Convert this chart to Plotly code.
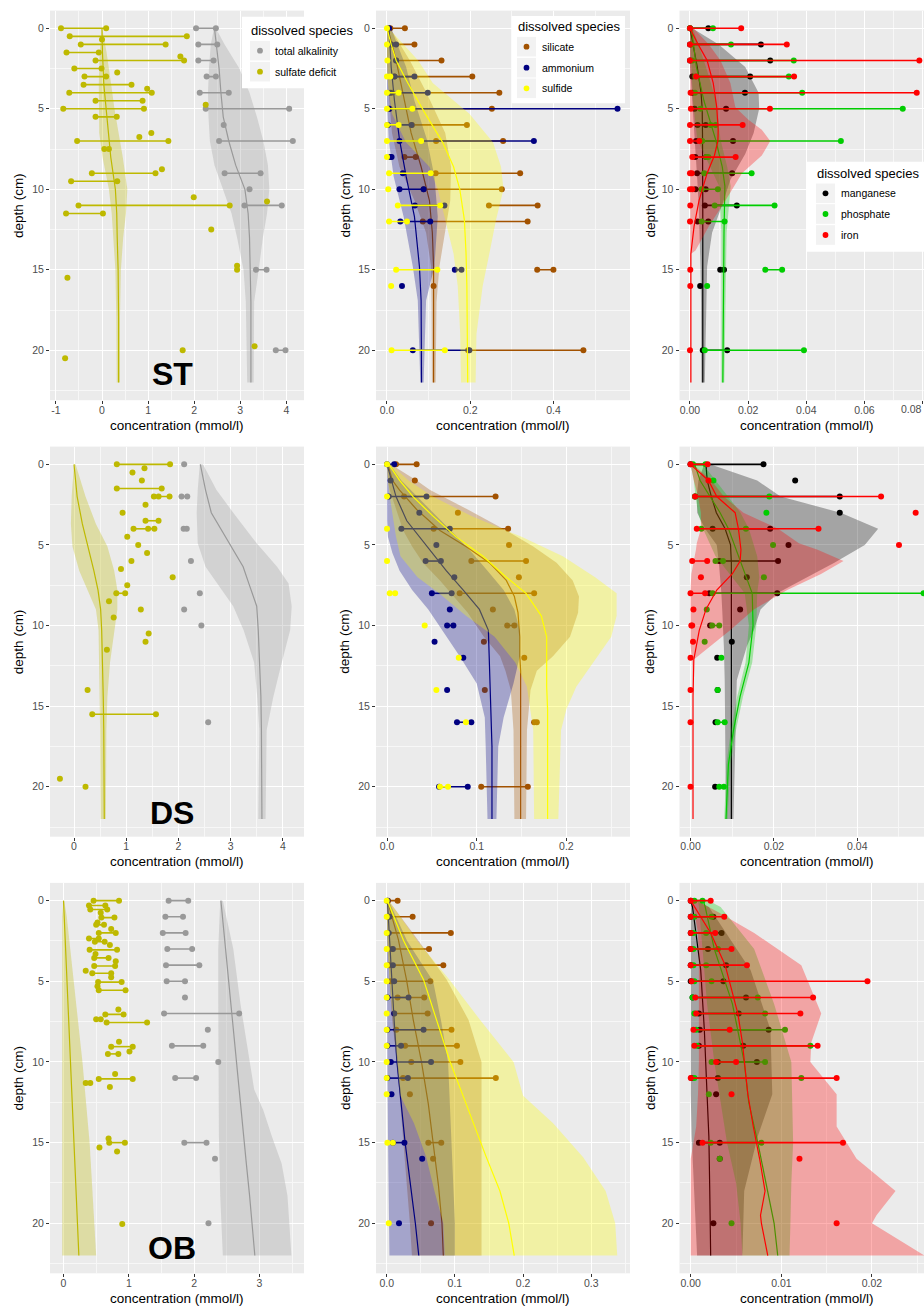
import plotly.graph_objects as go

W, H = 924, 1307
FONT = "Liberation Sans, Arial, sans-serif"

# ---------------------------------------------------------------- data
# measured profiles: (depth_cm, replicate values...)
# fitted profiles:   (depth_cm, fit, lower, upper)

depth_ticks = [0, 5, 10, 15, 20]

# ---- ST ----------------------------------------------------------------
st_alkalinity = [(0, 2.04, 2.47), (1, 2.09, 2.50), (2, 2.09, 2.42), (3, 2.27, 2.47), (4, 2.12, 2.75),
                 (5, 2.25, 4.06), (6, 2.64), (7, 2.54, 4.14), (9, 2.66, 3.44), (10, 3.20),
                 (11, 3.09, 3.90), (15, 3.34, 3.57), (20, 3.77, 3.98)]
st_alkalinity_fit = [(0, 2.44, 2.43, 2.47), (1, 2.48, 2.36, 2.66), (2.5, 2.54, 2.32, 2.98), (4, 2.58, 2.30, 3.20),
                     (5.5, 2.63, 2.31, 3.36), (7, 2.75, 2.34, 3.50), (8.5, 2.90, 2.44, 3.60), (10, 3.10, 2.63, 3.63),
                     (11.5, 3.17, 2.81, 3.58), (13, 3.20, 2.93, 3.49), (15, 3.22, 3.07, 3.40),
                     (17, 3.23, 3.12, 3.30), (22, 3.23, 3.15, 3.29)]
st_sulfate = [(0, -0.89, 0.09), (0.5, -0.70, 1.84), (0.7, 0.0), (1, -0.46, 1.38), (1.5, -0.77, -0.07),
              (1.75, 1.70), (2, -0.14, 1.78), (2.5, -0.60, -0.01), (2.75, 0.33), (3, -0.38, 0.09),
              (3.5, -0.40, 0.64), (3.75, 0.98), (4, -0.71, 1.08), (4.5, -0.14, 0.88), (4.75, 2.25),
              (5, -0.84, 0.91), (5.5, -0.14, 0.32), (6.5, 1.07), (6.75, 0.81), (7, -0.54, 1.44),
              (7.5, 0.05, 0.15), (8.75, 1.30), (9, -0.22, 1.16), (9.5, -0.67, 0.33), (10.5, 1.99),
              (10.75, 3.58), (11, -0.51, 2.77), (11.5, -0.78, 0.02), (12.5, 2.37), (14.75, 2.93),
              (15, 2.93), (15.5, -0.75), (19.75, 3.31), (20, 1.75), (20.5, -0.80)]
st_sulfate_fit = [(0, 0.0, -0.005, 0.005), (1.5, 0.01, -0.05, 0.10), (3.5, 0.04, -0.07, 0.20),
                  (5, 0.09, -0.07, 0.27), (6.5, 0.13, -0.06, 0.36), (8, 0.19, 0.01, 0.45),
                  (10, 0.29, 0.15, 0.55), (11.5, 0.32, 0.21, 0.52), (13, 0.33, 0.25, 0.46),
                  (15, 0.35, 0.29, 0.41), (18, 0.36, 0.31, 0.39), (22, 0.36, 0.32, 0.39)]

st_silicate = [(0, 0.008, 0.043), (1, 0.010, 0.066), (2, 0.022, 0.131), (3, 0.018, 0.205), (4, 0.012, 0.270),
               (5, 0.006, 0.252), (6, 0.060, 0.192), (7, 0.118, 0.279), (8, 0.042, 0.069), (9, 0.117, 0.320),
               (10, 0.088, 0.276), (11, 0.245, 0.362), (12, 0.086, 0.338), (15, 0.361, 0.400), (16, 0.112),
               (20, 0.195, 0.472)]
st_silicate_fit = [(0, 0.002, 0.0, 0.008), (2, 0.022, 0.0, 0.055), (4, 0.038, 0.004, 0.095),
                   (6.5, 0.058, 0.012, 0.140), (8.6, 0.082, 0.030, 0.154), (10.7, 0.102, 0.066, 0.152),
                   (12.7, 0.109, 0.094, 0.140), (14.8, 0.112, 0.106, 0.126), (17, 0.112, 0.107, 0.119),
                   (22, 0.112, 0.108, 0.117)]
st_ammonium = [(0, 0.005), (1, 0.010, 0.022), (2, 0.022), (3, 0.018, 0.066), (4, 0.008, 0.098),
               (5, 0.006, 0.554), (6, 0.002, 0.059), (7, 0.030, 0.353), (8, 0.008, 0.011), (9, 0.038),
               (10, 0.030, 0.088), (11, 0.067, 0.138), (12, 0.032, 0.104), (15, 0.163, 0.179), (16, 0.036),
               (20, 0.062, 0.198)]
st_ammonium_fit = [(0, 0.005, 0.0, 0.010), (2.4, 0.010, 0.0, 0.046), (4.5, 0.018, 0.0, 0.066),
                   (6.9, 0.030, 0.004, 0.096), (9.2, 0.046, 0.016, 0.114), (11.7, 0.066, 0.040, 0.122),
                   (14.8, 0.078, 0.062, 0.114), (16.9, 0.082, 0.074, 0.094), (22, 0.083, 0.080, 0.088)]
st_sulfide = [(0, 0.0), (1, 0.0), (2, 0.001), (3, 0.0, 0.008), (4, 0.0, 0.028), (5, 0.0, 0.061),
              (6, 0.0, 0.028), (7, 0.0, 0.082), (8, 0.0), (9, 0.005, 0.105), (10, 0.003), (11, 0.026, 0.128),
              (12, 0.005, 0.048), (15, 0.022, 0.121), (16, 0.010), (20, 0.011, 0.139)]
st_sulfide_fit = [(0, 0.0, 0.0, 0.004), (1, 0.010, 0.0, 0.040), (2, 0.022, 0.0, 0.075), (3.4, 0.050, 0.002, 0.110),
                  (5.3, 0.092, 0.012, 0.198), (7.1, 0.134, 0.046, 0.255), (8.6, 0.160, 0.102, 0.274),
                  (10, 0.175, 0.122, 0.280), (11.9, 0.186, 0.140, 0.262), (14, 0.190, 0.160, 0.246),
                  (16, 0.192, 0.170, 0.230), (19, 0.193, 0.176, 0.215), (22, 0.194, 0.178, 0.213)]

st_manganese = [(0, 0.0, 0.0063), (1, 0.0, 0.0244), (2, 0.0, 0.0276), (3, 0.0008, 0.0207), (4, 0.0008, 0.0189),
                (5, 0.0016, 0.0124), (6, 0.0026, 0.0054), (7, 0.0021, 0.0148), (8, 0.0018, 0.0056),
                (9, 0.0024, 0.0145), (10, 0.0019, 0.0054), (11, 0.0051, 0.0161), (12, 0.0026, 0.0063),
                (15, 0.0104, 0.0117), (16, 0.0035), (20, 0.0044, 0.0128)]
st_manganese_fit = [(0, 0.0, 0.0, 0.0008), (1, 0.0010, 0.0, 0.0099), (2.4, 0.0025, 0.0, 0.0190),
                    (4, 0.0038, 0.0006, 0.0236), (5, 0.0042, 0.0010, 0.0238), (6.5, 0.0043, 0.0014, 0.0219),
                    (7.8, 0.0044, 0.0020, 0.0190), (9.4, 0.0044, 0.0025, 0.0139), (11, 0.0044, 0.0030, 0.0110),
                    (12.7, 0.0044, 0.0033, 0.0076), (14.8, 0.0044, 0.0036, 0.0059), (17, 0.0044, 0.0038, 0.0055),
                    (22, 0.0044, 0.0039, 0.0051)]
st_phosphate = [(0, 0.0, 0.0079), (1, 0.0006, 0.0141), (2, 0.0008, 0.0357), (3, 0.0019, 0.0340),
                (4, 0.0017, 0.0386), (5, 0.0036, 0.0732), (6, 0.0071, 0.0088), (7, 0.0042, 0.0519),
                (8, 0.0056, 0.0063), (9, 0.0049, 0.0212), (10, 0.0040, 0.0096), (11, 0.0085, 0.0291),
                (12, 0.0040, 0.0119), (15, 0.0259, 0.0317), (16, 0.0059), (20, 0.0051, 0.0392)]
st_phosphate_fit = [(0, 0.0005, 0.0, 0.0010), (2.4, 0.0022, 0.0005, 0.0055), (4.5, 0.0048, 0.0010, 0.0090),
                    (6.9, 0.0088, 0.0025, 0.0105), (8.6, 0.0111, 0.0070, 0.0128), (9.8, 0.0120, 0.0100, 0.0140),
                    (12.7, 0.0117, 0.0108, 0.0126), (22, 0.0113, 0.0108, 0.0118)]
st_iron = [(0, 0.0, 0.0176), (1, 0.0, 0.0333), (2, 0.0, 0.0789), (3, 0.0021, 0.0358), (4, 0.0002, 0.0780),
           (5, 0.0003, 0.0275), (6, 0.0, 0.0181), (7, 0.0, 0.0032), (8, 0.0008, 0.0157), (9, 0.0, 0.0006),
           (10, 0.0, 0.0008), (11, 0.0001), (12, 0.0), (15, 0.0001), (16, 0.0001), (20, 0.0)]
st_iron_fit = [(0, 0.0, 0.0, 0.0012), (1, 0.0028, 0.0, 0.0065), (2, 0.0059, 0.0, 0.0105), (3.4, 0.0080, 0.0, 0.0139),
               (4.9, 0.0092, 0.0, 0.0156), (5.7, 0.0096, 0.0, 0.0202), (6.3, 0.0097, 0.0, 0.0247),
               (7, 0.0096, 0.0, 0.0276), (7.9, 0.0084, 0.0, 0.0247), (9, 0.0059, 0.0, 0.0179),
               (10.7, 0.0031, 0.0, 0.0122), (12.3, 0.0014, 0.0, 0.0065), (13.8, 0.0004, 0.0, 0.0019),
               (14, 0.0003, 0.0002, 0.0004), (22, 0.0003, 0.0002, 0.0004)]

# ---- DS ----------------------------------------------------------------
ds_alkalinity = [(0, 2.11), (2, 2.06, 2.17), (4, 2.10, 2.16), (6, 2.24), (8, 2.41), (9, 2.11), (10, 2.44), (16, 2.57)]
ds_alkalinity_fit = [(0, 2.42, 2.41, 2.47), (1.6, 2.52, 2.37, 2.73), (3, 2.63, 2.35, 3.05), (4.9, 2.97, 2.37, 3.50),
                     (6.35, 3.24, 2.52, 3.89), (7.4, 3.35, 2.74, 4.11), (8.8, 3.50, 3.05, 4.17),
                     (10.3, 3.53, 3.25, 4.14), (12.3, 3.56, 3.45, 3.98), (14.4, 3.58, 3.51, 3.82),
                     (16.5, 3.59, 3.55, 3.69), (22, 3.60, 3.53, 3.67)]
ds_sulfate = [(0, 0.82, 1.84), (0.25, 1.35), (0.5, 1.12), (1, 1.30), (1.5, 0.82, 1.68), (2, 1.53, 1.62, 1.83),
              (2.5, 1.37), (3, 0.93), (3.5, 1.37, 1.62), (4, 1.14, 1.42, 1.54), (4.5, 1.02), (5, 1.23),
              (5.5, 1.40), (6, 1.10), (6.5, 0.90), (7, 1.89), (7.5, 1.02), (8, 0.81, 0.98), (8.5, 0.67),
              (9, 1.28), (9.5, 0.76), (10.5, 1.43), (11, 1.37), (11.5, 0.63), (14, 0.26), (15.5, 0.35, 1.57),
              (19.5, -0.27), (20, 0.22)]
ds_sulfate_fit = [(0, 0.00, 0.00, 0.03), (2, 0.06, -0.045, 0.22), (3.7, 0.16, -0.06, 0.42), (5.1, 0.27, -0.03, 0.64),
                  (6.6, 0.38, 0.10, 0.77), (7.8, 0.46, 0.26, 0.83), (9, 0.51, 0.42, 0.83), (10.3, 0.53, 0.47, 0.77),
                  (12.3, 0.55, 0.48, 0.69), (14.4, 0.56, 0.49, 0.64), (16.5, 0.57, 0.50, 0.62),
                  (22, 0.58, 0.51, 0.61)]

ds_silicate = [(0, 0.010, 0.033), (1, 0.031), (2, 0.019, 0.121), (3, 0.079), (4, 0.052, 0.135), (5, 0.136),
               (6, 0.094, 0.155), (7, 0.147), (8, 0.081, 0.164), (9, 0.118), (10, 0.134, 0.142), (11, 0.108),
               (12, 0.153), (14, 0.109), (16, 0.164, 0.167), (20, 0.105, 0.157)]
ds_silicate_fit = [(0, 0.001, 0.000, 0.004), (1, 0.006, 0.001, 0.033), (1.6, 0.014, 0.003, 0.048),
                   (2.8, 0.033, 0.010, 0.090), (4.1, 0.059, 0.018, 0.133), (5.1, 0.088, 0.028, 0.163),
                   (6.1, 0.114, 0.040, 0.189), (7.2, 0.133, 0.059, 0.207), (8.2, 0.142, 0.075, 0.214),
                   (9.2, 0.146, 0.090, 0.213), (10.7, 0.148, 0.108, 0.204), (11.9, 0.148, 0.126, 0.185),
                   (12.8, 0.149, 0.132, 0.167), (14, 0.149, 0.138, 0.160), (16.5, 0.149, 0.141, 0.156),
                   (22, 0.149, 0.142, 0.155)]
ds_ammonium = [(0, 0.0, 0.008), (1, 0.004), (2, 0.002, 0.044), (3, 0.036), (4, 0.016, 0.070), (5, 0.055),
               (6, 0.043, 0.060), (7, 0.075), (8, 0.050, 0.072), (9, 0.070), (10, 0.067, 0.074), (11, 0.053),
               (12, 0.085), (14, 0.067), (16, 0.078, 0.094), (20, 0.058, 0.090)]
ds_ammonium_fit = [(0, 0.000, 0.000, 0.003), (1, 0.005, 0.000, 0.016), (2, 0.010, 0.000, 0.034),
                   (3.5, 0.022, 0.000, 0.060), (4.5, 0.036, 0.001, 0.078), (5.5, 0.051, 0.006, 0.095),
                   (6.6, 0.066, 0.014, 0.112), (7.8, 0.085, 0.028, 0.130), (9, 0.103, 0.046, 0.142),
                   (10.3, 0.113, 0.062, 0.148), (11.9, 0.114, 0.081, 0.148), (13.6, 0.115, 0.100, 0.141),
                   (15.7, 0.116, 0.109, 0.130), (17.5, 0.117, 0.110, 0.124), (22, 0.117, 0.112, 0.122)]
ds_sulfide = [(0, 0.0), (2, 0.0), (4, 0.0), (6, 0.0), (8, 0.003, 0.009), (10, 0.042), (12, 0.080), (14, 0.055),
              (16, 0.088), (20, 0.059, 0.068)]
ds_sulfide_fit = [(0, 0.002, 0.000, 0.004), (1, 0.014, 0.001, 0.024), (2, 0.029, 0.003, 0.051),
                  (3.2, 0.051, 0.006, 0.094), (4.5, 0.077, 0.010, 0.150), (5.7, 0.107, 0.015, 0.196),
                  (7, 0.133, 0.034, 0.232), (8, 0.155, 0.058, 0.256), (9.4, 0.172, 0.088, 0.256),
                  (10.7, 0.178, 0.120, 0.250), (12.3, 0.178, 0.143, 0.230), (13.8, 0.178, 0.156, 0.211),
                  (15.2, 0.179, 0.160, 0.200), (16.5, 0.179, 0.163, 0.194), (22, 0.179, 0.164, 0.191)]

ds_manganese = [(0, 0.0, 0.0175), (1, 0.0251), (2, 0.0011, 0.0358), (3, 0.0358), (4, 0.0053, 0.0191), (5, 0.0235),
                (6, 0.0069, 0.0210), (7, 0.0135), (8, 0.0045, 0.0208), (9, 0.0119), (10, 0.0047), (11, 0.0099),
                (12, 0.0064), (14, 0.0065), (16, 0.0060), (20, 0.0059)]
ds_manganese_fit = [(0, 0.0037, 0.0033, 0.0047), (1, 0.0040, 0.0019, 0.0160), (2, 0.0050, 0.0015, 0.0216),
                    (3, 0.0062, 0.0016, 0.0360), (4, 0.0083, 0.0035, 0.0450), (5, 0.0096, 0.0063, 0.0418),
                    (6.1, 0.0098, 0.0068, 0.0345), (7.2, 0.0098, 0.0072, 0.0265), (8, 0.0098, 0.0074, 0.0208),
                    (9, 0.0098, 0.0076, 0.0168), (10.3, 0.0098, 0.0079, 0.0152), (11.3, 0.0098, 0.0080, 0.0135),
                    (13.4, 0.0098, 0.0082, 0.0111), (16.5, 0.0098, 0.0083, 0.0107), (22, 0.0098, 0.0085, 0.0103)]
ds_phosphate = [(0, 0.0006, 0.0036), (1, 0.0055), (2, 0.0011, 0.0189), (3, 0.0182), (4, 0.0026, 0.0133),
                (5, 0.0198), (6, 0.0060, 0.0078), (7, 0.0176), (8, 0.0053, 0.0559), (9, 0.0039),
                (10, 0.0052, 0.0069), (11, 0.0034), (12, 0.0074), (14, 0.0065), (16, 0.0065, 0.0082),
                (20, 0.0069, 0.0080)]
ds_phosphate_fit = [(0, 0.0010, 0.0000, 0.0030), (1, 0.0023, 0.0008, 0.0060), (2, 0.0047, 0.0012, 0.0090),
                    (3, 0.0071, 0.0018, 0.0120), (4, 0.0091, 0.0030, 0.0140), (5.7, 0.0115, 0.0060, 0.0160),
                    (7, 0.0135, 0.0100, 0.0165), (8, 0.0148, 0.0130, 0.0160), (10, 0.0150, 0.0140, 0.0158),
                    (12.3, 0.0140, 0.0132, 0.0148), (14.4, 0.0119, 0.0112, 0.0126), (16.5, 0.0103, 0.0097, 0.0109),
                    (18.6, 0.0091, 0.0086, 0.0096), (22, 0.0085, 0.0081, 0.0089)]
ds_iron = [(0, 0.0, 0.0041), (1, 0.0043), (2, 0.0011, 0.0457), (3, 0.0540), (4, 0.0015, 0.0307), (5, 0.0500),
           (6, 0.0004, 0.0040), (7, 0.0025), (8, 0.0, 0.0035), (9, 0.0007), (10, 0.0002, 0.0004), (11, 0.0006),
           (12, 0.0), (14, 0.0), (16, 0.0), (20, 0.0)]
ds_iron_fit = [(0, 0.0, 0.0, 0.0006), (1, 0.0043, 0.0008, 0.0050), (2, 0.0063, 0.0018, 0.0080),
               (3, 0.0107, 0.0025, 0.0127), (4, 0.0115, 0.0025, 0.0210), (4.9, 0.0120, 0.0015, 0.0260),
               (5.3, 0.0121, 0.0013, 0.0305), (6, 0.0119, 0.0008, 0.0367), (6.8, 0.0100, 0.0002, 0.0313),
               (7.8, 0.0063, 0.0, 0.0232), (9, 0.0037, 0.0, 0.0152), (10.3, 0.0021, 0.0, 0.0095),
               (11.3, 0.0013, 0.0, 0.0047), (12.1, 0.0008, 0.0004, 0.0008), (14.4, 0.0006, 0.0006, 0.0006),
               (22, 0.0006, 0.0006, 0.0006)]

# ---- OB ----------------------------------------------------------------
ob_alkalinity = [(0, 1.61, 1.91), (1, 1.56, 1.83), (2, 1.52, 1.87), (3, 1.59, 1.97), (4, 1.57, 2.08),
                 (5, 1.58, 1.86), (6, 1.86), (7, 1.54, 2.69), (8, 2.21), (9, 1.66, 2.14), (10, 2.37),
                 (11, 1.71, 2.03), (15, 1.85, 2.19), (16, 2.32), (20, 2.22)]
ob_alkalinity_fit = [(0, 2.41, 2.40, 2.44), (3, 2.48, 2.37, 2.60), (6.4, 2.56, 2.37, 2.71), (9.5, 2.64, 2.37, 2.83),
                     (11.7, 2.69, 2.37, 2.92), (13, 2.72, 2.37, 3.06), (14.6, 2.76, 2.38, 3.19),
                     (16.3, 2.80, 2.39, 3.34), (18.3, 2.85, 2.40, 3.43), (22, 2.93, 2.44, 3.49)]
ob_sulfate = [(0, 0.46, 0.85), (0.3, 0.39, 0.64), (0.55, 0.41, 0.67), (0.75, 0.57), (1.05, 0.58, 0.78),
              (1.35, 0.52), (1.5, 0.50, 0.62), (1.75, 0.73), (2, 0.54, 0.80), (2.35, 0.39, 0.54),
              (2.55, 0.48, 0.63), (2.75, 0.71), (3.05, 0.40, 0.82), (3.3, 0.49), (3.55, 0.47, 0.69),
              (3.75, 0.80), (4.05, 0.47, 0.79), (4.35, 0.34), (4.5, 0.44, 0.73), (4.75, 0.73),
              (5.05, 0.53, 0.89), (5.3, 0.52), (5.55, 0.54, 0.95), (6.75, 0.84), (7.05, 0.64, 0.92),
              (7.35, 0.50, 0.57), (7.55, 0.66, 1.28), (8.75, 0.85), (9.05, 0.73, 1.06), (9.35, 1.01),
              (9.5, 0.68, 0.84), (10.75, 0.79), (11.05, 0.54, 1.06), (11.3, 0.34, 0.41), (11.55, 0.71),
              (14.75, 0.69), (15, 0.70, 0.94), (15.3, 0.55), (15.55, 0.82), (20.05, 0.90)]
ob_sulfate_fit = [(0, 0.00, 0.00, 0.01), (1, 0.01, -0.02, 0.05), (5, 0.05, -0.02, 0.16), (10, 0.105, -0.02, 0.29),
                  (15, 0.16, -0.02, 0.40), (22, 0.235, -0.02, 0.50)]

ob_silicate = [(0, 0.002, 0.016), (1, 0.002, 0.038), (2, 0.002, 0.094), (3, 0.007, 0.062), (4, 0.004, 0.083),
               (5, 0.006, 0.064), (6, 0.016, 0.055), (7, 0.011, 0.060), (8, 0.014, 0.095), (9, 0.027, 0.103),
               (10, 0.036, 0.108), (11, 0.024, 0.160), (12, 0.034), (15, 0.061, 0.080), (16, 0.068), (20, 0.065)]
ob_silicate_fit = [(0, 0.001, 0.000, 0.003), (2.4, 0.017, 0.001, 0.045), (4.9, 0.029, 0.004, 0.088),
                   (7.4, 0.039, 0.008, 0.120), (10, 0.051, 0.015, 0.139), (12.6, 0.061, 0.020, 0.140),
                   (15, 0.068, 0.025, 0.140), (17.7, 0.076, 0.030, 0.139), (20, 0.081, 0.034, 0.139),
                   (22, 0.083, 0.037, 0.139)]
ob_ammonium = [(0, 0.001), (1, 0.004), (2, 0.003), (3, 0.009), (4, 0.009), (5, 0.011), (6, 0.001, 0.032),
               (7, 0.011), (8, 0.001, 0.054), (9, 0.001, 0.021), (10, 0.006, 0.065), (11, 0.001, 0.031),
               (12, 0.007), (15, 0.009, 0.026), (16, 0.052), (20, 0.018)]
ob_ammonium_fit = [(0, 0.001, 0.000, 0.003), (2.5, 0.004, 0.000, 0.030), (5, 0.007, 0.000, 0.068),
                   (7.5, 0.011, 0.000, 0.080), (10, 0.015, 0.001, 0.090), (15, 0.027, 0.002, 0.095),
                   (20, 0.042, 0.003, 0.100), (22, 0.047, 0.004, 0.100)]
ob_sulfide = [(0, 0.0), (1, 0.0), (2, 0.0), (3, 0.0), (4, 0.0), (5, 0.0), (6, 0.0), (7, 0.0), (8, 0.0), (9, 0.0),
              (10, 0.0), (11, 0.0), (12, 0.0), (15, 0.001, 0.009), (20, 0.003)]
ob_sulfide_fit = [(0, 0.001, 0.000, 0.003), (2.5, 0.025, 0.001, 0.045), (4.9, 0.054, 0.004, 0.092),
                  (7.4, 0.073, 0.009, 0.137), (10, 0.093, 0.015, 0.186), (12.1, 0.112, 0.020, 0.200),
                  (13.8, 0.127, 0.040, 0.244), (15.9, 0.146, 0.058, 0.288), (18, 0.166, 0.070, 0.321),
                  (20, 0.179, 0.083, 0.335), (22, 0.187, 0.085, 0.338)]

ob_manganese = [(0, 0.0), (1, 0.0, 0.0025), (2, 0.0, 0.0034), (3, 0.0, 0.0019), (4, 0.0, 0.0039), (5, 0.0, 0.0036),
                (6, 0.0002, 0.0061), (7, 0.0009, 0.0053), (8, 0.0010, 0.0086), (9, 0.0009, 0.0058),
                (10, 0.0030, 0.0073), (11, 0.0001, 0.0030), (12, 0.0028), (15, 0.0009, 0.0032), (16, 0.0032),
                (20, 0.0025)]
ob_manganese_fit = [(0, 0.0, 0.0, 0.0007), (0.4, 0.0002, 0.0, 0.0020), (4.3, 0.0011, 0.0, 0.0066),
                    (8, 0.0015, 0.0, 0.0088), (12, 0.0018, 0.0, 0.0090), (14.6, 0.0020, 0.0001, 0.0074),
                    (18, 0.0021, 0.0004, 0.0059), (22, 0.0022, 0.0007, 0.0057)]
ob_phosphate = [(0, 0.0004, 0.0013), (1, 0.0004, 0.0023), (2, 0.0003, 0.0017), (3, 0.0003, 0.0030),
                (4, 0.0003, 0.0017), (5, 0.0004, 0.0023), (6, 0.0002, 0.0074), (7, 0.0004, 0.0082),
                (8, 0.0006, 0.0104), (9, 0.0007, 0.0132), (10, 0.0023, 0.0082), (11, 0.0004, 0.0122),
                (12, 0.0020), (15, 0.0022, 0.0078), (16, 0.0032), (20, 0.0045)]
ob_phosphate_fit = [(0, 0.0014, 0.0008, 0.0020), (0.4, 0.0016, 0.0009, 0.0033), (3, 0.0026, 0.0013, 0.0070),
                    (6.4, 0.0046, 0.0018, 0.0092), (10, 0.0059, 0.0026, 0.0111), (12.5, 0.0064, 0.0033, 0.0112),
                    (15, 0.0074, 0.0040, 0.0113), (17.5, 0.0083, 0.0050, 0.0111), (20, 0.0092, 0.0055, 0.0110),
                    (22, 0.0096, 0.0057, 0.0109)]
ob_iron = [(0, 0.0, 0.0022), (1, 0.0, 0.0037), (2, 0.0, 0.0027), (3, 0.0, 0.0045), (4, 0.0, 0.0062),
           (5, 0.0001, 0.0195), (6, 0.0005, 0.0135), (7, 0.0006, 0.0121), (8, 0.0003, 0.0043),
           (9, 0.0004, 0.0140), (10, 0.0028, 0.0050), (11, 0.0, 0.0161), (12, 0.0045), (15, 0.0013, 0.0168),
           (16, 0.0120), (20, 0.0161)]
ob_iron_fit = [(0, 0.0, 0.0, 0.0007), (0.7, 0.0008, 0.0004, 0.0030), (2, 0.0022, 0.0008, 0.0070),
               (4, 0.0038, 0.0009, 0.0122), (7, 0.0052, 0.0009, 0.0144), (8.8, 0.0057, 0.0009, 0.0133),
               (10, 0.0059, 0.0009, 0.0132), (12, 0.0063, 0.0008, 0.0161), (14, 0.0069, 0.0006, 0.0161),
               (16, 0.0076, 0.0, 0.0183), (18, 0.0082, 0.0, 0.0226), (19.5, 0.0077, 0.0, 0.0205),
               (20, 0.0078, 0.0, 0.0200), (22, 0.0085, 0.0, 0.0258)]

# axis tick labels for the concentration axes
st_ticks = [[-1, 0, 1, 2, 3, 4], [0.0, 0.2, 0.4], [0.00, 0.02, 0.04, 0.06, 0.08]]
ds_ticks = [[0, 1, 2, 3, 4], [0.0, 0.1, 0.2], [0.00, 0.02, 0.04]]
ob_ticks = [[0, 1, 2, 3], [0.0, 0.1, 0.2, 0.3], [0.00, 0.01, 0.02]]
tick_formats = ["{:g}", "{:.1f}", "{:.2f}"]

# legend contents, one legend per column of panels
legend_entries = [["total alkalinity", "sulfate deficit"],
                  ["silicate", "ammonium", "sulfide"],
                  ["manganese", "phosphate", "iron"]]

# ---------------------------------------------------------------- styling
COLORS = {
    "total alkalinity": "#999999",
    "sulfate deficit": "#BEB900",
    "silicate": "#A25200",
    "ammonium": "#000080",
    "sulfide": "#FFFF00",
    "manganese": "#000000",
    "phosphate": "#00CD00",
    "iron": "#FF0000",
}
RIBBON_ALPHA = 0.3


def rgba(hex_color, alpha):
    h = hex_color.lstrip("#")
    r, g, b = int(h[0:2], 16), int(h[2:4], 16), int(h[4:6], 16)
    return f"rgba({r},{g},{b},{alpha})"


# panel geometry in pixels (left, right) and (top, bottom)
PANEL_W = 254
COLS_PX = [(50, 304), (376, 630), (679.5, 924)]
ROWS_PX = [(10.6, 400.2), (446.6, 836.7), (882.9, 1273.3)]
X_RANGES = [
    [[-1.128, 4.382], [-0.0264, 0.584], [-0.00361, 0.0805]],
    [[-0.460, 4.406], [-0.0123, 0.2709], [-0.00264, 0.0560]],
    [[-0.207, 3.683], [-0.0157, 0.3567], [-0.00124, 0.02574]],
]
Y_RANGE = [23.1, -1.1]

fig = go.Figure()


def axis_ids(k):
    return ("x" if k == 1 else f"x{k}"), ("y" if k == 1 else f"y{k}")


def add_species(k, pts, fit, name):
    xa, ya = axis_ids(k)
    color = COLORS[name]
    seg_x, seg_y = [], []
    for row in pts:
        d, vals = row[0], row[1:]
        if len(vals) > 1:
            seg_x += [min(vals), max(vals), None]
            seg_y += [d, d, None]
    fig.add_trace(go.Scatter(x=seg_x, y=seg_y, mode="lines", line=dict(color=color, width=1.6),
                             xaxis=xa, yaxis=ya, hoverinfo="skip"))
    px = [v for row in pts for v in row[1:]]
    py = [row[0] for row in pts for _ in row[1:]]
    fig.add_trace(go.Scatter(x=px, y=py, mode="markers", name=name,
                             marker=dict(color=color, size=6, line=dict(width=0)),
                             xaxis=xa, yaxis=ya))
    depth = [r[0] for r in fit]
    mid = [r[1] for r in fit]
    lo = [r[2] for r in fit]
    hi = [r[3] for r in fit]
    fig.add_trace(go.Scatter(x=lo + hi[::-1], y=depth + depth[::-1], mode="lines", fill="toself",
                             fillcolor=rgba(color, RIBBON_ALPHA), line=dict(width=0),
                             xaxis=xa, yaxis=ya, hoverinfo="skip"))
    fig.add_trace(go.Scatter(x=mid, y=depth, mode="lines", line=dict(color=color, width=1.2),
                             xaxis=xa, yaxis=ya, hoverinfo="skip"))


# row 1: ST
add_species(1, st_alkalinity, st_alkalinity_fit, "total alkalinity")
add_species(1, st_sulfate, st_sulfate_fit, "sulfate deficit")
add_species(2, st_silicate, st_silicate_fit, "silicate")
add_species(2, st_ammonium, st_ammonium_fit, "ammonium")
add_species(2, st_sulfide, st_sulfide_fit, "sulfide")
add_species(3, st_manganese, st_manganese_fit, "manganese")
add_species(3, st_phosphate, st_phosphate_fit, "phosphate")
add_species(3, st_iron, st_iron_fit, "iron")
# row 2: DS
add_species(4, ds_alkalinity, ds_alkalinity_fit, "total alkalinity")
add_species(4, ds_sulfate, ds_sulfate_fit, "sulfate deficit")
add_species(5, ds_silicate, ds_silicate_fit, "silicate")
add_species(5, ds_ammonium, ds_ammonium_fit, "ammonium")
add_species(5, ds_sulfide, ds_sulfide_fit, "sulfide")
add_species(6, ds_manganese, ds_manganese_fit, "manganese")
add_species(6, ds_phosphate, ds_phosphate_fit, "phosphate")
add_species(6, ds_iron, ds_iron_fit, "iron")
# row 3: OB
add_species(7, ob_alkalinity, ob_alkalinity_fit, "total alkalinity")
add_species(7, ob_sulfate, ob_sulfate_fit, "sulfate deficit")
add_species(8, ob_silicate, ob_silicate_fit, "silicate")
add_species(8, ob_ammonium, ob_ammonium_fit, "ammonium")
add_species(8, ob_sulfide, ob_sulfide_fit, "sulfide")
add_species(9, ob_manganese, ob_manganese_fit, "manganese")
add_species(9, ob_phosphate, ob_phosphate_fit, "phosphate")
add_species(9, ob_iron, ob_iron_fit, "iron")


def minor_between(ticks):
    step = ticks[1] - ticks[0]
    return [ticks[0] - step / 2 + i * step for i in range(len(ticks) + 1)]


tick_font = dict(family=FONT, size=10.5, color="#4D4D4D")
common = dict(showline=False, zeroline=False, ticks="outside", ticklen=3, tickwidth=1, tickcolor="#333333",
              tickfont=tick_font, showgrid=True, gridcolor="white", gridwidth=1.1)


def px_x(v):
    return v / W


def px_y(v):
    return 1 - v / H


annotations = []
shapes = []
site_ticks = [st_ticks, ds_ticks, ob_ticks]
site_names = ["ST", "DS", "OB"]
title_font = dict(family=FONT, size=13.5, color="black")
for r in range(3):
    top, bot = ROWS_PX[r]
    for c in range(3):
        k = r * 3 + c + 1
        left, right = COLS_PX[c]
        xa, ya = axis_ids(k)
        ticks = site_ticks[r][c]
        fmt = tick_formats[c]
        labels = [fmt.format(t) for t in ticks]
        lo_r, hi_r = X_RANGES[r][c]
        # a label whose tick sits at the clipped right edge is written flush with the edge
        edge_labels = [lab for t, lab in zip(ticks, labels)
                       if right >= W and (right - left) * (hi_r - t) / (hi_r - lo_r) < 10]
        fig.layout["xaxis" if k == 1 else f"xaxis{k}"] = dict(
            domain=[left / W, right / W], range=X_RANGES[r][c], anchor=ya,
            tickmode="array", tickvals=ticks,
            ticktext=["" if lab in edge_labels else lab for lab in labels],
            ticklabelstandoff=-3,
            minor=dict(tickmode="array", tickvals=minor_between(ticks), showgrid=True,
                       gridcolor="#F7F7F7", gridwidth=0.6, ticklen=0),
            **common)
        for lab in edge_labels:
            annotations.append(dict(text=lab, xref="paper", yref="paper", x=1.0, y=px_y(bot + 8.5),
                                    xanchor="right", yanchor="middle", showarrow=False, font=tick_font))
        fig.layout["yaxis" if k == 1 else f"yaxis{k}"] = dict(
            domain=[1 - bot / H, 1 - top / H], range=Y_RANGE, anchor=xa,
            tickmode="array", tickvals=depth_ticks, ticktext=[str(t) for t in depth_ticks],
            minor=dict(tickmode="array", tickvals=minor_between(depth_ticks), showgrid=True,
                       gridcolor="#F7F7F7", gridwidth=0.6, ticklen=0),
            **common)
        annotations.append(dict(text="concentration (mmol/l)", xref="paper", yref="paper",
                                x=(left + PANEL_W / 2) / W, y=px_y(bot + 25),
                                xanchor="center", yanchor="middle", showarrow=False, font=title_font))
        annotations.append(dict(text="depth (cm)", xref="paper", yref="paper", textangle=-90,
                                x=[18.5, 345, 650][c] / W, y=px_y((top + bot) / 2),
                                xanchor="center", yanchor="middle", showarrow=False, font=title_font))
    annotations.append(dict(text=f"<b>{site_names[r]}</b>", xref="paper", yref="paper",
                            x=172 / W, y=px_y([374, 813, 1248][r]), xanchor="center", yanchor="middle",
                            showarrow=False, font=dict(family=FONT, size=32, color="black")))

# legends: white box, title, grey key squares with coloured dots, labels
LEGEND_BOXES = [dict(box=(242, 16.7, 360, 88.3), title=(249, 30.7), key_x=(250, 270), text_x=273,
                     rows=[50.7, 71.7]),
                dict(box=(511.5, 16, 625, 103.3), title=(516, 26.7), key_x=(517, 536), text_x=539.5,
                     rows=[46.7, 67.7, 88.3]),
                dict(box=(806.5, 161.7, 924, 251.7), title=(815, 173.3), key_x=(816, 835), text_x=838.5,
                     rows=[193.3, 214, 235])]

for entries, lg in zip(legend_entries, LEGEND_BOXES):
    x0, y0, x1, y1 = lg["box"]
    shapes.append(dict(type="rect", xref="paper", yref="paper", layer="above",
                       x0=px_x(x0), x1=px_x(x1), y0=px_y(y1), y1=px_y(y0),
                       fillcolor="white", line=dict(width=0)))
    annotations.append(dict(text="dissolved species", xref="paper", yref="paper",
                            x=px_x(lg["title"][0]), y=px_y(lg["title"][1]), xanchor="left", yanchor="middle",
                            showarrow=False, font=dict(family=FONT, size=13, color="black")))
    kx0, kx1 = lg["key_x"]
    for name, yc in zip(entries, lg["rows"]):
        shapes.append(dict(type="rect", xref="paper", yref="paper", layer="above",
                           x0=px_x(kx0), x1=px_x(kx1), y0=px_y(yc + 9.8), y1=px_y(yc - 9.8),
                           fillcolor="#F2F2F2", line=dict(width=0)))
        cx = (kx0 + kx1) / 2
        shapes.append(dict(type="circle", xref="paper", yref="paper", layer="above",
                           x0=px_x(cx - 2.9), x1=px_x(cx + 2.9), y0=px_y(yc + 2.9), y1=px_y(yc - 2.9),
                           fillcolor=COLORS[name], line=dict(width=0)))
        annotations.append(dict(text=name, xref="paper", yref="paper", x=px_x(lg["text_x"]), y=px_y(yc),
                                xanchor="left", yanchor="middle", showarrow=False,
                                font=dict(family=FONT, size=10.5, color="black")))

fig.update_layout(
    width=W, height=H, margin=dict(l=0, r=0, t=0, b=0),
    paper_bgcolor="white", plot_bgcolor="#EBEBEB",
    font=dict(family=FONT), showlegend=False,
    annotations=annotations, shapes=shapes,
)

fig.write_html("out.html")
